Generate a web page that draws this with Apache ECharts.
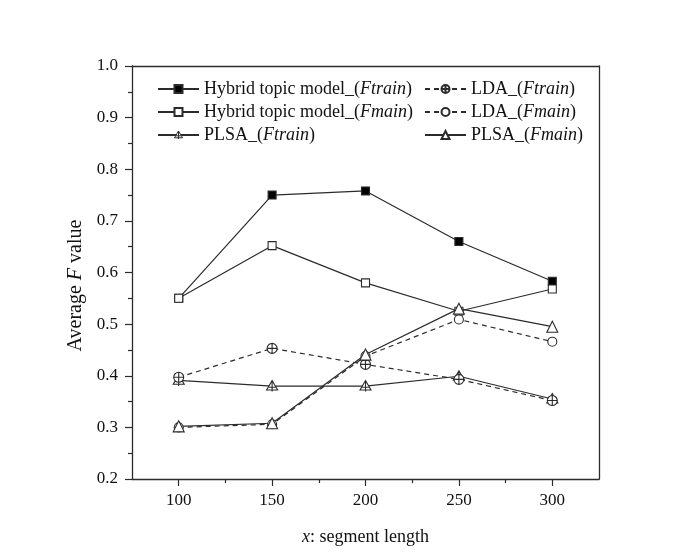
<!DOCTYPE html>
<html><head><meta charset="utf-8">
<script src="https://cdn.jsdelivr.net/npm/echarts@6/dist/echarts.min.js"></script>
<style>html,body{margin:0;padding:0;background:#fff}#c{width:684px;height:553px}</style>
</head><body><div id="c"></div>
<script>
var xValues = [100, 150, 200, 250, 300];
var xMinorTicks = [125, 175, 225, 275];
var hybridFtrain = [0.55, 0.75, 0.758, 0.66, 0.583];
var hybridFmain = [0.55, 0.652, 0.58, 0.525, 0.568];
var plsaFtrain = [0.391, 0.38, 0.38, 0.399, 0.355];
var plsaFmain = [0.302, 0.308, 0.441, 0.53, 0.495];
var ldaFtrain = [0.397, 0.453, 0.422, 0.393, 0.352];
var ldaFmain = [0.30, 0.306, 0.438, 0.509, 0.466];

function pairs(v){ return xValues.map(function(x,i){return [x, v[i]];}); }

var C = '#2b2b2b';
var FONT = 'Liberation Serif';
var circlePlus = 'path://M10,0 A10,10 0 1,1 10,20 A10,10 0 1,1 10,0 Z M0,10 L20,10 M10,0 L10,20';
var triPlus = 'path://M10,0 L20,17 L0,17 Z M10,0 L10,20 M4,12 L16,12';

function mk(name, data, symbol, fill, dashed, size){
  return {
    name: name, type: 'line', data: pairs(data),
    symbol: symbol, symbolSize: size, symbolKeepAspect: true,
    lineStyle: {color: C, width: 1.2, type: dashed ? [5,4] : 'solid'},
    itemStyle: {color: fill, borderColor: C, borderWidth: 1.1},
    emphasis: {disabled: true}, animation: false, z: 3
  };
}

var labels = {
  hybridFtrain: '{n|Hybrid topic model_(}{i|Ftrain}{n|)}',
  hybridFmain: '{n|Hybrid topic model_(}{i|Fmain}{n|)}',
  plsaFtrain: '{n|PLSA_(}{i|Ftrain}{n|)}',
  ldaFtrain: '{n|LDA_(}{i|Ftrain}{n|)}',
  ldaFmain: '{n|LDA_(}{i|Fmain}{n|)}',
  plsaFmain: '{n|PLSA_(}{i|Fmain}{n|)}'
};
var rich = {
  n: {fontFamily: FONT, fontSize: 18, color: '#111', lineHeight: 20},
  i: {fontFamily: FONT, fontSize: 18, fontStyle: 'italic', color: '#111', lineHeight: 20}
};
function legend(data, left){
  return {
    data: data.map(function(n){
      return n === 'plsaFtrain' ? {name: n, itemStyle: {color: '#fff', borderColor: C, borderWidth: 1}} : {name: n};
    }),
    left: left, top: 75, orient: 'vertical', itemWidth: 41, itemHeight: 10,
    itemGap: 5, selectedMode: false, formatter: function(n){return labels[n];},
    textStyle: {rich: rich, fontFamily: FONT, fontSize: 18}
  };
}

var chart = echarts.init(document.getElementById('c'));
chart.setOption({
  backgroundColor: '#fff',
  animation: false,
  grid: {left: 132, right: 85, top: 66, bottom: 74},
  legend: [legend(['hybridFtrain','hybridFmain','plsaFtrain'], 152), legend(['ldaFtrain','ldaFmain','plsaFmain'], 419)],
  xAxis: [
    {type: 'value', min: 75, max: 325, position: 'bottom',
     name: '{i|x}{n|: segment length}', nameLocation: 'middle', nameGap: 48,
     nameTextStyle: {rich: rich},
     axisLine: {lineStyle: {color: C, width: 1.3}},
     axisTick: {show: true, length: 7, inside: false, customValues: xValues, lineStyle: {color: C, width: 1.2}},
     axisLabel: {customValues: xValues, fontFamily: FONT, fontSize: 17, color: '#111', margin: 13},
     splitLine: {show: false}},
    {type: 'value', min: 75, max: 325, position: 'bottom',
     axisLine: {show: false},
     axisTick: {show: true, length: 4, customValues: xMinorTicks, lineStyle: {color: C, width: 1.2}},
     axisLabel: {show: false}, splitLine: {show: false}},
    {type: 'value', min: 75, max: 325, position: 'top',
     axisLine: {lineStyle: {color: C, width: 1.3}}, axisTick: {show: false}, axisLabel: {show: false}, splitLine: {show: false}}
  ],
  yAxis: [
    {type: 'value', min: 0.2, max: 1.0, interval: 0.1, position: 'left',
     name: '{n|Average }{i|F}{n| value}', nameLocation: 'middle', nameGap: 42,
     nameTextStyle: {rich: {
       n: {fontFamily: FONT, fontSize: 20, color: '#111'},
       i: {fontFamily: FONT, fontSize: 20, fontStyle: 'italic', color: '#111'}
     }, padding: [0, 26, 0, 0]},
     axisLine: {show: true, lineStyle: {color: C, width: 1.3}},
     axisTick: {show: true, length: 7, lineStyle: {color: C, width: 1.2}},
     minorTick: {show: true, splitNumber: 2, length: 4, lineStyle: {color: C, width: 1.2}},
     axisLabel: {fontFamily: FONT, fontSize: 17, color: '#111', margin: 14, formatter: function(v){return v.toFixed(1);}},
     splitLine: {show: false}},
    {type: 'value', min: 0.2, max: 1.0, position: 'right',
     axisLine: {show: true, lineStyle: {color: C, width: 1.3}}, axisTick: {show: false}, axisLabel: {show: false}, splitLine: {show: false}}
  ],
  series: [
    mk('hybridFtrain', hybridFtrain, 'rect', '#000', false, 8),
    mk('hybridFmain', hybridFmain, 'rect', '#fff', false, 8),
    mk('plsaFtrain', plsaFtrain, triPlus, '#fff', false, 11),
    mk('ldaFtrain', ldaFtrain, circlePlus, '#fff', true, 10),
    mk('ldaFmain', ldaFmain, 'circle', '#fff', true, 9),
    mk('plsaFmain', plsaFmain, 'triangle', '#fff', false, 11)
  ]
});
</script></body></html>
